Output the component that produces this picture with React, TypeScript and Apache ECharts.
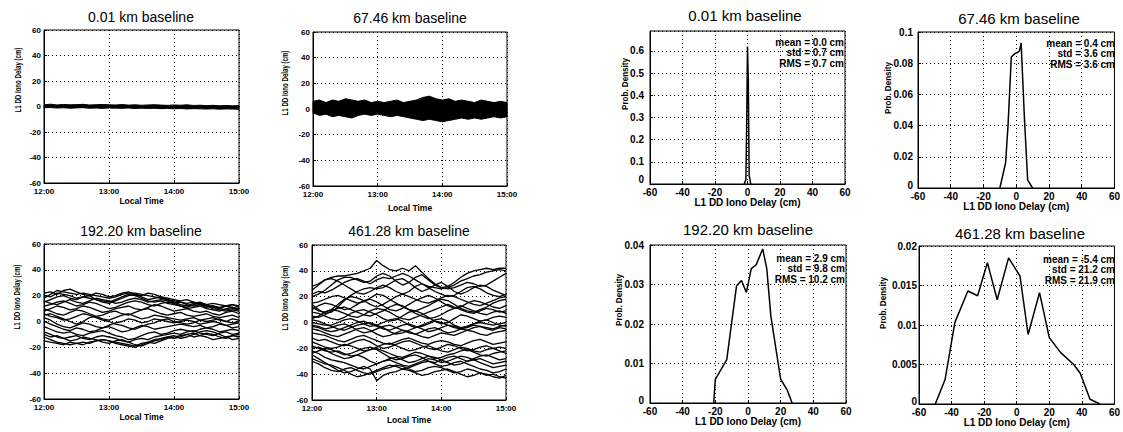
import React, { useEffect, useRef } from 'react';
import * as echarts from 'echarts';

// ---------- data ----------
const minutes = [0, 6, 12, 18, 24, 30, 36, 42, 48, 54, 60, 66, 72, 78, 84, 90, 96, 102, 108, 114, 120, 126, 132, 138, 144, 150, 156, 162, 168, 174, 180];
const timeLabels = ['12:00', '13:00', '14:00', '15:00'];
const panelTitles = ['0.01 km baseline', '67.46 km baseline', '192.20 km baseline', '461.28 km baseline'];
const timeAxisName = 'Local Time';
const delayAxisName = 'L1 DD Iono Delay (cm)';
const densityAxisName = 'Prob. Density';
const statLines = [
  ['mean = 0.0 cm', 'std = 0.7 cm', 'RMS = 0.7 cm'],
  ['mean = 0.4 cm', 'std = 3.6 cm', 'RMS = 3.6 cm'],
  ['mean = 2.9 cm', 'std = 9.8 cm', 'RMS = 10.2 cm'],
  ['mean = -5.4 cm', 'std = 21.2 cm', 'RMS = 21.9 cm'],
];

// envelope of the overlapping residual curves (cm)
const upper001 = [1.4, 1.8, 1.2, 1.6, 1.3, 1.5, 1.7, 1.2, 1.4, 1.6, 1.3, 1.2, 1.5, 1.1, 1.3, 1.0, 1.2, 1.4, 1.1, 0.9, 1.2, 1.0, 1.3, 0.8, 1.0, 0.7, 0.9, 0.6, 0.8, 0.5, 0.7];
const lower001 = [-1.0, -0.8, -1.2, -1.0, -1.3, -1.1, -0.9, -1.4, -1.2, -1.5, -1.1, -1.3, -1.4, -1.2, -1.6, -1.3, -1.5, -1.4, -1.7, -1.5, -1.8, -1.6, -1.9, -1.7, -1.8, -2.0, -1.8, -2.1, -1.9, -2.0, -2.2];
const upper067 = [6, 7, 5, 7, 6, 8, 7, 6, 7, 5, 6, 5, 6, 7, 5, 6, 7, 9, 10, 8, 7, 8, 6, 7, 6, 5, 7, 6, 5, 6, 5];
const lower067 = [-3, -5, -4, -6, -5, -6, -7, -5, -4, -5, -4, -5, -6, -5, -6, -7, -8, -9, -8, -9, -10, -9, -8, -7, -8, -7, -8, -7, -6, -7, -6];

const delay192 = [
  [18, 21, 24, 23, 22, 21, 22, 21, 20, 19, 18, 19, 21, 22, 22, 21, 20, 19, 18, 17, 16, 15, 14, 15, 13, 12, 12, 11, 12, 11, 10],
  [15, 17, 19, 20, 18, 17, 19, 20, 17, 15, 14, 16, 18, 20, 21, 19, 17, 18, 19, 17, 15, 13, 12, 14, 15, 13, 11, 10, 12, 13, 11],
  [12, 13, 15, 16, 14, 12, 13, 15, 14, 12, 10, 11, 13, 15, 16, 15, 13, 12, 14, 15, 14, 12, 10, 11, 12, 10, 9, 8, 10, 11, 9],
  [8, 10, 12, 11, 9, 10, 12, 11, 9, 7, 8, 10, 11, 12, 10, 9, 11, 13, 12, 10, 8, 9, 10, 8, 7, 8, 6, 5, 7, 8, 6],
  [10, 8, 6, 5, 7, 9, 8, 6, 4, 5, 7, 8, 6, 5, 7, 9, 10, 8, 6, 5, 6, 7, 5, 4, 5, 6, 4, 3, 4, 5, 3],
  [5, 6, 4, 2, 0, -2, 0, 3, 4, 2, 1, 3, 5, 6, 4, 2, 3, 5, 4, 3, 2, 1, 2, 3, 1, 0, 1, 2, 0, -1, 0],
  [3, 1, -2, -4, -5, -3, -1, -2, -4, -5, -3, -1, 0, 2, 1, -1, 0, 2, 1, 0, -1, 0, 1, 0, -2, -1, 0, -1, -3, -2, -1],
  [0, -2, -4, -6, -7, -5, -6, -8, -7, -5, -4, -6, -8, -7, -5, -3, -4, -6, -5, -4, -3, -2, -3, -4, -3, -5, -4, -2, -3, -5, -4],
  [-4, -6, -8, -9, -8, -10, -11, -9, -8, -7, -9, -11, -12, -14, -13, -11, -9, -8, -10, -9, -7, -6, -7, -8, -6, -5, -6, -8, -7, -6, -7],
  [-8, -10, -12, -13, -12, -11, -13, -14, -12, -11, -12, -13, -15, -16, -14, -13, -14, -12, -11, -10, -9, -10, -8, -7, -9, -10, -11, -9, -8, -10, -9],
  [-12, -14, -16, -17, -18, -17, -16, -17, -15, -14, -15, -17, -18, -19, -20, -18, -16, -17, -15, -13, -12, -11, -10, -12, -11, -9, -10, -12, -13, -11, -10],
  [-15, -16, -17, -18, -16, -17, -18, -16, -15, -14, -15, -16, -17, -18, -19, -17, -16, -14, -13, -12, -13, -12, -10, -9, -11, -12, -14, -13, -12, -11, -12],
  [20, 19, 22, 21, 20, 18, 19, 18, 17, 16, 15, 17, 19, 21, 20, 18, 16, 15, 16, 14, 13, 12, 11, 13, 14, 12, 10, 9, 8, 9, 8],
  [6, 4, 3, 1, 2, 4, 6, 5, 3, 1, 0, -2, -3, -5, -6, -4, -2, -1, 1, 2, 0, -1, -2, -1, 1, 2, 3, 1, 0, 2, 1],
  [22, 23, 21, 24, 25, 23, 21, 20, 22, 21, 19, 20, 22, 23, 21, 20, 22, 21, 19, 18, 17, 16, 17, 15, 14, 13, 14, 13, 12, 13, 12],
  [16, 14, 13, 15, 17, 15, 14, 16, 18, 17, 16, 14, 15, 17, 18, 17, 15, 16, 17, 16, 14, 15, 13, 12, 13, 11, 12, 10, 9, 10, 9],
  [-10, -12, -11, -13, -15, -14, -12, -13, -14, -16, -17, -15, -14, -16, -18, -19, -17, -15, -14, -12, -11, -13, -12, -10, -8, -7, -8, -10, -12, -14, -13],
];

const delay461 = [
  [25, 29, 33, 35, 36, 36, 37, 38, 40, 42, 48, 44, 41, 40, 42, 40, 44, 39, 34, 30, 27, 28, 31, 35, 38, 40, 41, 42, 41, 42, 42],
  [20, 22, 25, 29, 33, 35, 35, 33, 31, 32, 36, 38, 36, 32, 29, 31, 35, 37, 33, 29, 27, 26, 27, 29, 31, 30, 28, 29, 32, 35, 38],
  [14, 10, 7, 8, 12, 17, 21, 24, 26, 27, 26, 27, 30, 33, 34, 31, 27, 24, 26, 29, 31, 28, 24, 22, 24, 27, 29, 28, 25, 23, 21],
  [28, 30, 33, 34, 32, 29, 26, 23, 22, 24, 27, 29, 27, 24, 22, 24, 28, 30, 27, 24, 22, 20, 21, 24, 27, 28, 26, 23, 21, 20, 22],
  [10, 13, 15, 14, 12, 10, 11, 14, 17, 18, 16, 13, 10, 9, 11, 14, 17, 19, 21, 19, 16, 13, 11, 12, 15, 17, 16, 14, 12, 11, 13],
  [15, 16, 18, 20, 21, 19, 17, 15, 16, 19, 22, 21, 18, 15, 12, 10, 9, 11, 13, 16, 18, 17, 14, 11, 9, 8, 10, 12, 15, 17, 18],
  [5, 4, 6, 9, 11, 12, 10, 8, 6, 5, 7, 9, 12, 14, 13, 10, 7, 5, 3, 4, 6, 9, 11, 13, 11, 9, 7, 6, 8, 9, 7],
  [8, 7, 5, 3, 2, 4, 7, 9, 10, 8, 6, 3, 1, 2, 5, 8, 9, 7, 4, 1, -1, 0, 3, 6, 5, 3, 1, 2, 4, 5, 4],
  [0, -1, -2, -2, 0, 2, 3, 1, -1, -3, -2, 0, 2, 3, 1, -2, -4, -3, -1, 1, 0, -2, -4, -5, -3, -1, 0, -1, -2, -1, 0],
  [-3, -4, -6, -7, -6, -4, -2, 0, 1, -1, -3, -5, -6, -4, -2, -1, -3, -5, -7, -6, -4, -2, -3, -5, -6, -4, -3, -4, -5, -3, -2],
  [-5, -6, -8, -10, -11, -9, -7, -5, -4, -6, -9, -11, -10, -8, -6, -7, -9, -11, -12, -10, -8, -9, -10, -8, -6, -7, -9, -10, -8, -7, -6],
  [2, 1, -1, -3, -5, -6, -4, -2, -1, 0, -2, -4, -7, -9, -8, -6, -4, -2, 0, 2, 3, 1, -2, -4, -3, -1, 1, 2, 0, -2, -3],
  [-8, -9, -10, -12, -14, -15, -13, -11, -10, -12, -14, -16, -17, -15, -13, -12, -14, -16, -17, -15, -14, -15, -17, -18, -16, -14, -13, -15, -17, -16, -15],
  [-15, -17, -19, -20, -19, -17, -18, -20, -22, -21, -19, -17, -16, -18, -20, -22, -21, -19, -18, -20, -22, -23, -21, -19, -20, -22, -23, -21, -20, -19, -20],
  [-18, -20, -22, -23, -22, -24, -26, -25, -23, -21, -20, -22, -24, -26, -27, -25, -23, -24, -26, -28, -27, -25, -24, -22, -21, -23, -25, -26, -24, -23, -22],
  [-20, -19, -21, -24, -26, -28, -27, -25, -27, -30, -32, -30, -28, -27, -29, -31, -30, -28, -26, -27, -29, -31, -33, -32, -30, -29, -31, -33, -35, -34, -33],
  [-12, -14, -13, -15, -17, -18, -16, -14, -13, -15, -18, -20, -19, -17, -15, -14, -16, -18, -20, -21, -19, -17, -18, -20, -22, -21, -19, -18, -20, -22, -24],
  [-25, -28, -31, -34, -37, -39, -38, -36, -34, -36, -45, -41, -39, -38, -36, -37, -39, -41, -40, -38, -37, -36, -38, -40, -42, -41, -39, -40, -42, -43, -41],
  [-28, -30, -32, -33, -35, -37, -40, -42, -41, -39, -37, -35, -33, -34, -36, -35, -33, -31, -30, -32, -34, -33, -31, -30, -32, -34, -36, -37, -39, -38, -36],
  [-22, -24, -27, -29, -30, -31, -33, -35, -36, -34, -32, -30, -29, -31, -33, -34, -32, -30, -28, -29, -31, -30, -28, -26, -27, -29, -28, -30, -32, -31, -30],
  [22, 24, 23, 25, 28, 31, 33, 34, 32, 30, 33, 35, 34, 36, 38, 36, 33, 30, 28, 27, 26, 27, 29, 32, 34, 36, 37, 39, 40, 41, 40],
  [12, 9, 8, 10, 14, 18, 20, 19, 17, 14, 12, 14, 17, 20, 22, 20, 18, 16, 15, 17, 19, 21, 20, 18, 16, 14, 13, 15, 17, 19, 20],
  [-2, -3, -5, -4, -2, -1, -3, -6, -8, -7, -5, -3, -2, -4, -6, -8, -9, -7, -5, -4, -6, -8, -7, -5, -4, -2, -3, -5, -6, -4, -5],
  [-24, -22, -20, -21, -23, -25, -24, -22, -20, -19, -21, -24, -27, -29, -28, -26, -25, -27, -30, -31, -29, -27, -26, -28, -30, -28, -26, -25, -27, -29, -28],
  [-30, -32, -35, -37, -38, -36, -35, -37, -39, -40, -38, -36, -35, -33, -34, -36, -38, -37, -35, -34, -35, -37, -39, -38, -36, -37, -39, -41, -40, -42, -43],
  [3, 5, 8, 10, 9, 7, 5, 4, 6, 9, 11, 10, 8, 5, 3, 2, 4, 6, 8, 10, 12, 14, 12, 10, 8, 7, 9, 11, 10, 8, 9],
];

const pdfX001 = [-2, -1, -0.5, 0, 0.5, 1, 2];
const pdfY001 = [0, 0.02, 0.27, 0.62, 0.46, 0.04, 0];
const pdfX067 = [-10, -6.5, -5, -3, -1, 1, 2, 3, 5, 7, 10];
const pdfY067 = [0, 0.016, 0.04, 0.084, 0.086, 0.087, 0.088, 0.093, 0.045, 0.005, 0];
const pdfX192 = [-21, -20, -13, -7, -4, -1, 2, 5, 9, 11.5, 14, 20, 24, 27];
const pdfY192 = [0, 0.006, 0.011, 0.0297, 0.031, 0.028, 0.034, 0.035, 0.039, 0.034, 0.022, 0.006, 0.0033, 0];
const pdfX461 = [-50, -44, -38, -30, -24, -18, -12, -5, 2, 7, 14, 20, 27, 35, 39, 45, 51];
const pdfY461 = [0, 0.0031, 0.0103, 0.0143, 0.0137, 0.0179, 0.0132, 0.0185, 0.0162, 0.0088, 0.0141, 0.0084, 0.0065, 0.005, 0.0039, 0.0006, 0];

// ---------- layout ----------
const FONT = "'Liberation Sans', Arial, Helvetica, sans-serif";
const gridBoxes = [
  [44, 30, 195, 153],
  [313, 32, 194, 154],
  [44, 244, 195, 155],
  [312, 245, 194, 155],
  [650, 31, 195, 153],
  [918, 32, 199, 156],
  [650, 245, 196, 158],
  [919, 246, 199, 158],
];
const titlePos = [
  [141, 17, 14], [410, 18, 14], [141, 231, 14], [409, 231, 14],
  [745, 15, 15], [1019, 18, 15], [748, 229, 15], [1020, 233, 15],
];
const yNamePos = [[18, 80], [285, 83], [17, 297], [285, 298], [625, 84], [888, 88], [619, 300], [883, 303]];
const statPos = [[844, 42], [1115, 43], [845, 258], [1115, 259]];
const xNameGap = [13, 17, 13, 15, 12, 8, 8, 10];
const yLabelMargin = [3, 3, 3, 4, 6, 5, 6, 2];
const zeroLift = [10, 5, 5, 5];
const histY = [
  { max: 0.69, interval: 0.1 },
  { max: 0.1, interval: 0.02 },
  { max: 0.04, interval: 0.01 },
  { max: 0.02, interval: 0.005 },
];

function axisCommon() {
  return {
    axisLine: { show: true, onZero: false, lineStyle: { color: '#000', width: 1 } },
    axisTick: { show: true, inside: true, length: 3, lineStyle: { color: '#000' } },
    splitLine: { show: true, lineStyle: { color: '#000', type: [1, 3], width: 1 } },
    nameLocation: 'middle',
  };
}

function buildOption() {
  const grid: any[] = [];
  const xAxis: any[] = [];
  const yAxis: any[] = [];
  const series: any[] = [];
  const elements: any[] = [];

  gridBoxes.forEach((g, i) => {
    grid.push({ left: g[0], top: g[1], width: g[2], height: g[3], show: true, borderColor: '#000', borderWidth: 1, containLabel: false });
    const isTime = i < 4;
    const fs = isTime ? 8 : 10;
    const labelStyle = { fontFamily: FONT, fontSize: fs, fontWeight: 'bold', color: '#000' };
    if (isTime) {
      xAxis.push({
        ...axisCommon(), type: 'value', gridIndex: i, min: 0, max: 180, interval: 60,
        name: timeAxisName, nameGap: xNameGap[i],
        nameTextStyle: { fontFamily: FONT, fontSize: 8.5, fontWeight: 'bold', color: '#000' },
        axisLabel: { ...labelStyle, margin: 4, formatter: (v: number) => timeLabels[Math.round(v / 60)] ?? '' },
      });
      yAxis.push({
        ...axisCommon(), type: 'value', gridIndex: i, min: -60, max: 60, interval: 20,
        axisLabel: { ...labelStyle, margin: yLabelMargin[i] },
      });
    } else {
      const h = histY[i - 4];
      xAxis.push({
        ...axisCommon(), type: 'value', gridIndex: i, min: -60, max: 60, interval: 20,
        name: delayAxisName, nameGap: xNameGap[i],
        nameTextStyle: { fontFamily: FONT, fontSize: 10, fontWeight: 'bold', color: '#000' },
        axisLabel: { ...labelStyle, margin: 3 },
      });
      yAxis.push({
        ...axisCommon(), type: 'value', gridIndex: i, min: 0, max: h.max, interval: h.interval,
        axisLabel: {
          ...labelStyle, margin: yLabelMargin[i], showMaxLabel: i === 4 ? false : true,
          formatter: (v: number) => (v === 0 ? '{z|0}' : String(v)),
          rich: { z: { ...labelStyle, padding: [0, 0, zeroLift[i - 4], 0] } },
        },
      });
    }
    // panel title
    const tp = titlePos[i];
    elements.push({
      type: 'text', x: tp[0], y: tp[1], silent: true,
      style: { text: panelTitles[i % 4], fill: '#000', fontFamily: FONT, fontSize: tp[2], align: 'center', verticalAlign: 'middle' },
    });
    // y axis name (condensed, rotated)
    const yp = yNamePos[i];
    elements.push({
      type: 'text', x: yp[0], y: yp[1], rotation: Math.PI / 2, silent: true,
      scaleX: isTime ? 0.72 : 0.85, scaleY: 1,
      style: {
        text: isTime ? delayAxisName : densityAxisName, fill: '#000', fontFamily: FONT,
        fontSize: isTime ? 8.5 : 9.5, fontWeight: 'bold', align: 'center', verticalAlign: 'middle',
      },
    });
  });

  // envelope bands
  const bands = [[lower001, upper001], [lower067, upper067]];
  bands.forEach(([lo, up], i) => {
    series.push({
      type: 'custom', xAxisIndex: i, yAxisIndex: i, silent: true,
      data: minutes.map((m, j) => [m, lo[j], up[j]]),
      encode: { x: 0, y: [1, 2] },
      renderItem: (params: any, api: any) => {
        if (params.dataIndex !== 0) return null;
        const pts: number[][] = [];
        for (let j = 0; j < minutes.length; j++) pts.push(api.coord([minutes[j], up[j]]));
        for (let j = minutes.length - 1; j >= 0; j--) pts.push(api.coord([minutes[j], lo[j]]));
        return { type: 'polygon', shape: { points: pts }, style: { fill: '#000', stroke: '#000', lineWidth: 1 } };
      },
    });
  });

  // individual curves
  [delay192, delay461].forEach((set, k) => {
    set.forEach((vals) => {
      series.push({
        type: 'line', xAxisIndex: k + 2, yAxisIndex: k + 2, silent: true, symbol: 'none', showSymbol: false,
        lineStyle: { color: '#000', width: 1.3 },
        data: minutes.map((m, j) => [m, vals[j]]),
      });
    });
  });

  // pdfs
  const pdfs = [[pdfX001, pdfY001], [pdfX067, pdfY067], [pdfX192, pdfY192], [pdfX461, pdfY461]];
  pdfs.forEach(([xs, ys], k) => {
    series.push({
      type: 'line', xAxisIndex: k + 4, yAxisIndex: k + 4, silent: true, symbol: 'none', showSymbol: false,
      lineStyle: { color: '#000', width: 1.5 },
      data: xs.map((x, j) => [x, ys[j]]),
    });
    const sp = statPos[k];
    statLines[k].forEach((t, r) => {
      elements.push({
        type: 'text', x: sp[0], y: sp[1] + r * 10.5, silent: true, z: 10,
        style: { text: t, fill: '#000', fontFamily: FONT, fontSize: 10, fontWeight: 'bold', align: 'right', verticalAlign: 'middle' },
      });
    });
  });

  return {
    animation: false,
    backgroundColor: '#fff',
    textStyle: { fontFamily: FONT },
    grid, xAxis, yAxis, series,
    graphic: { elements },
  };
}

export default function App() {
  const ref = useRef<HTMLDivElement>(null);
  useEffect(() => {
    if (!ref.current) return;
    const chart = echarts.init(ref.current, null, { renderer: 'svg' });
    chart.setOption(buildOption() as any);
    return () => chart.dispose();
  }, []);
  return (
    <div
      ref={ref}
      style={{ position: 'absolute', left: 0, top: 0, width: 1123, height: 432, background: '#fff' }}
    />
  );
}
